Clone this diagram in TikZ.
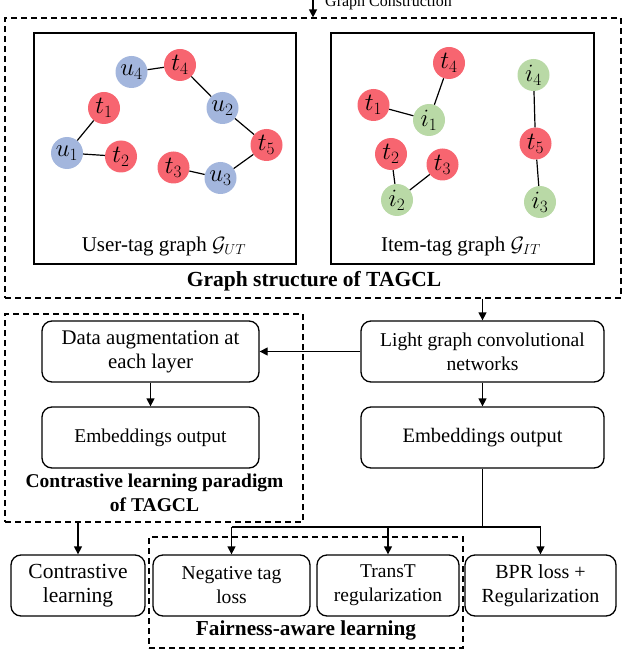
\documentclass[tikz,border=0pt]{standalone}
\usepackage{fontspec}
\setmainfont{Liberation Serif}
\usetikzlibrary{arrows.meta}
\definecolor{tagred}{HTML}{F76570}
\definecolor{userblue}{HTML}{A3B6DD}
\definecolor{itemgreen}{HTML}{B9D9A6}
\newcommand{\fsz}[1]{\fontsize{#1}{24}\selectfont}
\begin{document}
\begin{tikzpicture}[x=1pt,y=-1pt,
  box/.style={draw, line width=1.3pt, rounded corners=10pt, align=center, inner sep=0pt, font=\fsz{20}},
  panel/.style={draw, line width=1.3pt, inner sep=0pt},
  dbox/.style={draw, line width=1.2pt, dash pattern=on 6pt off 4pt, inner sep=0pt},
  captext/.style={font=\fsz{21.3}\bfseries, align=center, inner sep=0pt},
  plaintext/.style={font=\fsz{21}, inner sep=0pt},
  vtx/.style={circle, minimum size=32pt, inner sep=0pt, font=\fontsize{25}{25}\selectfont},
  tagv/.style={vtx, fill=tagred},
  userv/.style={vtx, fill=userblue},
  itemv/.style={vtx, fill=itemgreen},
  edgeline/.style={line width=1.2pt},
  arr/.style={-{Triangle[length=8pt,width=8pt]}, line width=1.3pt},
  ln/.style={line width=1.3pt}]
\useasboundingbox (0,0) rectangle (628,668);

% top: graph construction
\node[dbox, minimum width=616pt, minimum height=280pt] (outer) at (313,158) {};
\coordinate (gtop) at (313,-2);
\draw[arr] (gtop) -- (outer.north);
\node[anchor=base west, font=\fontsize{16}{16}\selectfont, inner sep=0pt] (gc) at (325,7) {Graph Construction};

% panels
\node[panel, minimum width=262pt, minimum height=231pt] (pl) at (165,148.5) {};
\node[panel, minimum width=263pt, minimum height=231pt] (pr) at (462.5,148.5) {};
\node[plaintext] (plcap) at (164,246) {User-tag graph $\mathcal{G}_{UT}$};
\node[plaintext] (prcap) at (461,246) {Item-tag graph $\mathcal{G}_{IT}$};
\node[captext, font=\fsz{21.5}\bfseries] (gcap) at (314,281) {Graph structure of TAGCL};

% user-tag graph
\node[userv] (u4) at (131.5,72) {$u_4$};
\node[tagv] (t4) at (180,65) {$t_4$};
\node[tagv] (t1) at (104,108) {$t_1$};
\node[userv] (u2) at (222.5,108) {$u_2$};
\node[userv] (u1) at (67,153) {$u_1$};
\node[tagv] (t2) at (121,156.5) {$t_2$};
\node[tagv] (t5) at (266.5,145) {$t_5$};
\node[tagv] (t3) at (173.5,167.5) {$t_3$};
\node[userv] (u3) at (220.5,178) {$u_3$};
\draw[edgeline] (u4) -- (t4);
\draw[edgeline] (t4) -- (u2);
\draw[edgeline] (u2) -- (t5);
\draw[edgeline] (t5) -- (u3);
\draw[edgeline] (u3) -- (t3);
\draw[edgeline] (u1) -- (t1);
\draw[edgeline] (u1) -- (t2);

% item-tag graph
\node[tagv] (jt4) at (449,63) {$t_4$};
\node[tagv] (jt1) at (373.5,105) {$t_1$};
\node[itemv] (i1) at (429,120) {$i_1$};
\node[itemv] (i4) at (533.5,75) {$i_4$};
\node[tagv] (jt5) at (535.5,143.5) {$t_5$};
\node[tagv] (jt2) at (391,154) {$t_2$};
\node[tagv] (jt3) at (442.5,164.5) {$t_3$};
\node[itemv] (i2) at (397,200) {$i_2$};
\node[itemv] (i3) at (540,202) {$i_3$};
\draw[edgeline] (jt4) -- (i1);
\draw[edgeline] (jt1) -- (i1);
\draw[edgeline] (i4) -- (jt5);
\draw[edgeline] (jt5) -- (i3);
\draw[edgeline] (jt2) -- (i2);
\draw[edgeline] (jt3) -- (i2);

% contrastive learning paradigm
\node[dbox, minimum width=298pt, minimum height=208pt] (cl) at (154,418) {};
\node[box, minimum width=217pt, minimum height=61pt, font=\fsz{20.8}] (aug) at (150.5,351.5) {Data augmentation at\\each layer};
\node[box, minimum width=217pt, minimum height=61pt, font=\fsz{19.5}] (embl) at (150.5,437.5) {Embeddings output};
\node[captext, font=\fsz{19.5}\bfseries] (clcap) at (154.5,493) {Contrastive learning paradigm\\of TAGCL};

% right column
\node[box, minimum width=243pt, minimum height=61pt, font=\fsz{19.6}] (lgcn) at (482.5,351.5) {Light graph convolutional\\networks};
\node[box, minimum width=243pt, minimum height=61pt, font=\fsz{20.5}] (embr) at (482.5,437.5) {Embeddings output};

% bottom row
\node[dbox, minimum width=314pt, minimum height=111pt] (fair) at (306,592.5) {};
\node[box, minimum width=134pt, minimum height=61pt, font=\fsz{21.5}] (contr) at (78,585.5) {Contrastive\\learning};
\node[box, minimum width=157pt, minimum height=61pt, font=\fsz{19.6}] (neg) at (231.5,585.5) {Negative tag\\loss};
\node[box, minimum width=142pt, minimum height=61pt, font=\fsz{19.5}] (transt) at (388,585.5) {TransT\\regularization};
\node[box, minimum width=151pt, minimum height=61pt, font=\fsz{20}] (bpr) at (540.5,585.5) {BPR loss +\\Regularization};
\node[captext] (faircap) at (306,630) {Fairness-aware learning};

% connectors
\draw[arr] (outer.south -| lgcn.north) -- (lgcn.north);
\draw[arr] (lgcn.west) -- (aug.east);
\draw[arr] (aug.south) -- (embl.north);
\draw[arr] (lgcn.south) -- (embr.north);
\coordinate (bus) at (482.5,527);
\draw[ln] (embr.south) -- (bus);
\draw[ln] (bus -| neg.north) -- (bus -| bpr.north);
\draw[arr] (bus -| neg.north) -- (neg.north);
\draw[arr] (bus -| transt.north) -- (transt.north);
\draw[arr] (bus -| bpr.north) -- (bpr.north);
\draw[arr] (cl.south -| contr.north) -- (contr.north);
\end{tikzpicture}
\end{document}
